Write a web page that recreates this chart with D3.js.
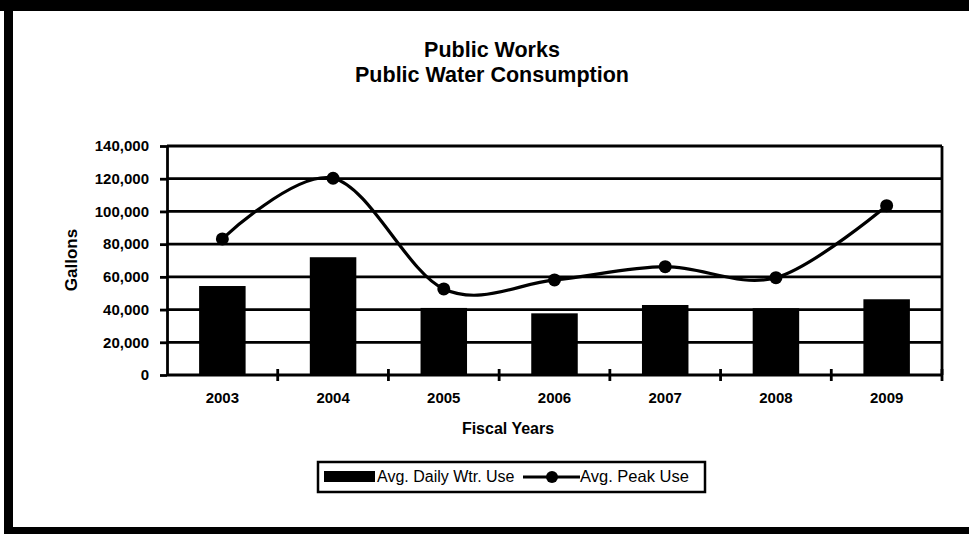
<!DOCTYPE html>
<html>
<head>
<meta charset="utf-8">
<script src="https://cdn.jsdelivr.net/npm/d3@7"></script>
<style>
  body { margin: 0; background: #fff; }
  svg { display: block; font-family: "Liberation Sans", Arial, sans-serif; }
  .grid line { stroke: #000; stroke-width: 2.8; }
  .axis path, .axis line { stroke: #000; stroke-width: 2.8; }
  .axis text { font-size: 15px; font-weight: bold; fill: #000; }
</style>
</head>
<body>
<svg width="969" height="534"></svg>
<script>
const years = ["2003", "2004", "2005", "2006", "2007", "2008", "2009"];
const dailyUse = [54400, 72000, 41000, 37700, 42800, 40800, 46300];
const peakUse = [83200, 120300, 52600, 58100, 66200, 59500, 103500];
const yTicks = [0, 20000, 40000, 60000, 80000, 100000, 120000, 140000];

const svg = d3.select("svg"),
    width = +svg.attr("width"),
    height = +svg.attr("height");

const plot = { left: 167, right: 942, top: 146, bottom: 375 };

const x = d3.scaleBand()
    .domain(years)
    .range([plot.left, plot.right])
    .padding(0);

const y = d3.scaleLinear()
    .domain([0, 140000])
    .range([plot.bottom, plot.top]);

// outer frame (scanned page edges)
svg.append("rect").attr("x", 0).attr("y", 0).attr("width", width).attr("height", 11).attr("fill", "#000");
svg.append("rect").attr("x", 4).attr("y", 0).attr("width", 9).attr("height", height).attr("fill", "#000");
svg.append("rect").attr("x", 4).attr("y", 527).attr("width", width - 4).attr("height", 7).attr("fill", "#000");

// titles
svg.append("text")
    .attr("x", 492).attr("y", 57)
    .attr("text-anchor", "middle")
    .attr("font-size", "21.5px").attr("font-weight", "bold")
    .text("Public Works");
svg.append("text")
    .attr("x", 492).attr("y", 82)
    .attr("text-anchor", "middle")
    .attr("font-size", "21.5px").attr("font-weight", "bold")
    .text("Public Water Consumption");

// gridlines
svg.append("g")
    .attr("class", "grid")
    .selectAll("line")
    .data(yTicks.slice(1))
    .enter().append("line")
    .attr("x1", plot.left).attr("x2", plot.right)
    .attr("y1", d => y(d)).attr("y2", d => y(d));

// right edge of plot
svg.append("line")
    .attr("x1", plot.right).attr("x2", plot.right)
    .attr("y1", plot.top).attr("y2", plot.bottom)
    .attr("stroke", "#000").attr("stroke-width", 2.8);

// bars
const barW = x.bandwidth() * 0.42;
svg.append("g")
    .selectAll("rect")
    .data(years)
    .enter().append("rect")
    .attr("x", d => x(d) + (x.bandwidth() - barW) / 2)
    .attr("width", barW)
    .attr("y", (d, i) => y(dailyUse[i]))
    .attr("height", (d, i) => y(0) - y(dailyUse[i]))
    .attr("fill", "#000");

// y axis
svg.append("g")
    .attr("class", "axis")
    .attr("transform", "translate(" + plot.left + ",0)")
    .call(d3.axisLeft(y)
        .tickValues(yTicks)
        .tickSize(7)
        .tickSizeOuter(0)
        .tickPadding(11)
        .tickFormat(d3.format(",")));

// x axis: line, crossing ticks between categories, labels centred
const xg = svg.append("g").attr("class", "axis");
xg.append("line")
    .attr("x1", plot.left).attr("x2", plot.right)
    .attr("y1", plot.bottom).attr("y2", plot.bottom);
xg.selectAll(".tk")
    .data(years.slice(1).map(d => x(d)).concat([plot.right]))
    .enter().append("line")
    .attr("class", "tk")
    .attr("x1", d => d).attr("x2", d => d)
    .attr("y1", plot.bottom - 6).attr("y2", plot.bottom + 6);
xg.selectAll("text")
    .data(years)
    .enter().append("text")
    .attr("x", d => x(d) + x.bandwidth() / 2)
    .attr("y", plot.bottom + 28)
    .attr("text-anchor", "middle")
    .text(d => d);

// smoothed peak line
const line = d3.line()
    .x((d, i) => x(years[i]) + x.bandwidth() / 2)
    .y(d => y(d))
    .curve(d3.curveCatmullRom.alpha(0));

svg.append("path")
    .datum(peakUse)
    .attr("fill", "none")
    .attr("stroke", "#000")
    .attr("stroke-width", 3.2)
    .attr("d", line);

svg.append("g")
    .selectAll("circle")
    .data(peakUse)
    .enter().append("circle")
    .attr("cx", (d, i) => x(years[i]) + x.bandwidth() / 2)
    .attr("cy", d => y(d))
    .attr("r", 6.5)
    .attr("fill", "#000");

// axis titles
svg.append("text")
    .attr("transform", "translate(77,260) rotate(-90)")
    .attr("text-anchor", "middle")
    .attr("font-size", "17px").attr("font-weight", "bold")
    .text("Gallons");
svg.append("text")
    .attr("x", 508).attr("y", 434)
    .attr("text-anchor", "middle")
    .attr("font-size", "16px").attr("font-weight", "bold")
    .text("Fiscal Years");

// legend
const lg = svg.append("g").attr("class", "legend");
lg.append("rect")
    .attr("x", 318).attr("y", 462).attr("width", 387).attr("height", 30)
    .attr("fill", "#fff").attr("stroke", "#000").attr("stroke-width", 2.5);
lg.append("rect")
    .attr("x", 324).attr("y", 471).attr("width", 51).attr("height", 11)
    .attr("fill", "#000");
lg.append("text")
    .attr("x", 377).attr("y", 482)
    .attr("font-size", "16px")
    .text("Avg. Daily Wtr. Use");
lg.append("line")
    .attr("x1", 523).attr("x2", 580).attr("y1", 477).attr("y2", 477)
    .attr("stroke", "#000").attr("stroke-width", 3);
lg.append("circle")
    .attr("cx", 552).attr("cy", 477).attr("r", 6).attr("fill", "#000");
lg.append("text")
    .attr("x", 580).attr("y", 482)
    .attr("font-size", "16.5px")
    .text("Avg. Peak Use");
</script>
</body>
</html>
